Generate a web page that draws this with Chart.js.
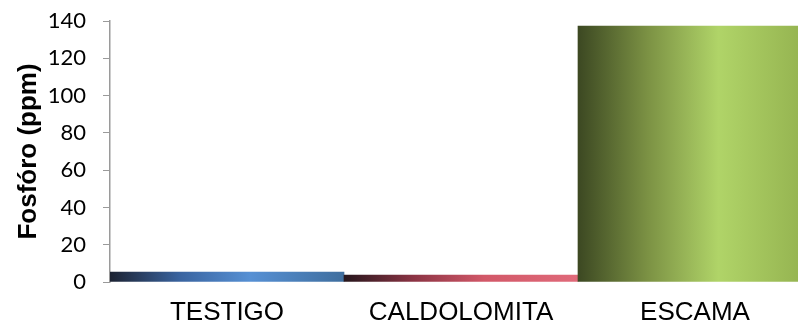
<!DOCTYPE html>
<html>
<head>
<meta charset="utf-8">
<script src="https://cdn.jsdelivr.net/npm/chart.js@4/dist/chart.umd.min.js"></script>
<style>
  html, body { margin: 0; padding: 0; background: #fff; overflow: hidden; }
  #wrap { width: 798px; height: 326px; overflow: hidden; }
</style>
</head>
<body>
<div id="wrap"><canvas id="chart" width="812" height="326"></canvas></div>
<script>
const categories = ["TESTIGO", "CALDOLOMITA", "ESCAMA"];
const fosforo = [5.3, 3.7, 137.3];
const yTicks = [0, 20, 40, 60, 80, 100, 120, 140];

// dark edge -> light -> slightly darker edge, one per bar
const barStops = [
  ["#1c2232", "#3a64a0", "#5690d4", "#3f6e9e"],
  ["#26161c", "#8c3444", "#d25868", "#e06a7a"],
  ["#3c4822", "#7c9244", "#b0d468", "#92b04e"]
];

function barGradient(ctx) {
  const chart = ctx.chart;
  const area = chart.chartArea;
  if (!area) return barStops[ctx.dataIndex][2];
  const xScale = chart.scales.x;
  const half = (xScale.width / categories.length) / 2;
  const cx = xScale.getPixelForValue(ctx.dataIndex);
  const g = chart.ctx.createLinearGradient(cx - half, 0, cx + half, 0);
  const s = barStops[ctx.dataIndex];
  g.addColorStop(0, s[0]);
  g.addColorStop(0.3, s[1]);
  g.addColorStop(0.6, s[2]);
  g.addColorStop(1, s[3]);
  return g;
}

new Chart(document.getElementById("chart"), {
  type: "bar",
  data: {
    labels: categories,
    datasets: [{
      label: "Fosfóro (ppm)",
      data: fosforo,
      backgroundColor: barGradient,
      borderWidth: 0,
      barPercentage: 1.0,
      categoryPercentage: 1.0
    }]
  },
  options: {
    responsive: false,
    animation: false,
    layout: { padding: { top: 21, right: 0, bottom: 0, left: 9 } },
    plugins: {
      legend: { display: false },
      tooltip: { enabled: false }
    },
    scales: {
      x: {
        grid: { display: false, drawTicks: false },
        border: { display: false },
        afterFit: (axis) => { axis.height = 44; },
        ticks: {
          color: "#000",
          font: { family: "Liberation Sans, Arial, sans-serif", size: 26, lineHeight: 1 },
          padding: 18,
          maxRotation: 0
        }
      },
      y: {
        min: 0,
        max: 140,
        afterBuildTicks: (axis) => { axis.ticks = yTicks.map(v => ({ value: v })); },
        afterFit: (axis) => {
          axis.width = 101;
          axis.paddingTop = 0;
          axis.paddingBottom = 0;
        },
        grid: {
          drawOnChartArea: false,
          drawTicks: true,
          tickLength: 7,
          color: "#9a9a9a"
        },
        border: { display: true, color: "#9a9a9a", width: 1.5 },
        ticks: {
          color: "#000",
          font: { family: "Lato, Open Sans, sans-serif", size: 22 },
          padding: 17
        },
        title: {
          display: true,
          text: "Fosfóro (ppm)",
          color: "#000",
          font: { family: "Liberation Sans, Arial, sans-serif", size: 26, weight: "bold", lineHeight: 1.2 },
          padding: { top: 4, bottom: 4 }
        }
      }
    }
  }
});
</script>
</body>
</html>
